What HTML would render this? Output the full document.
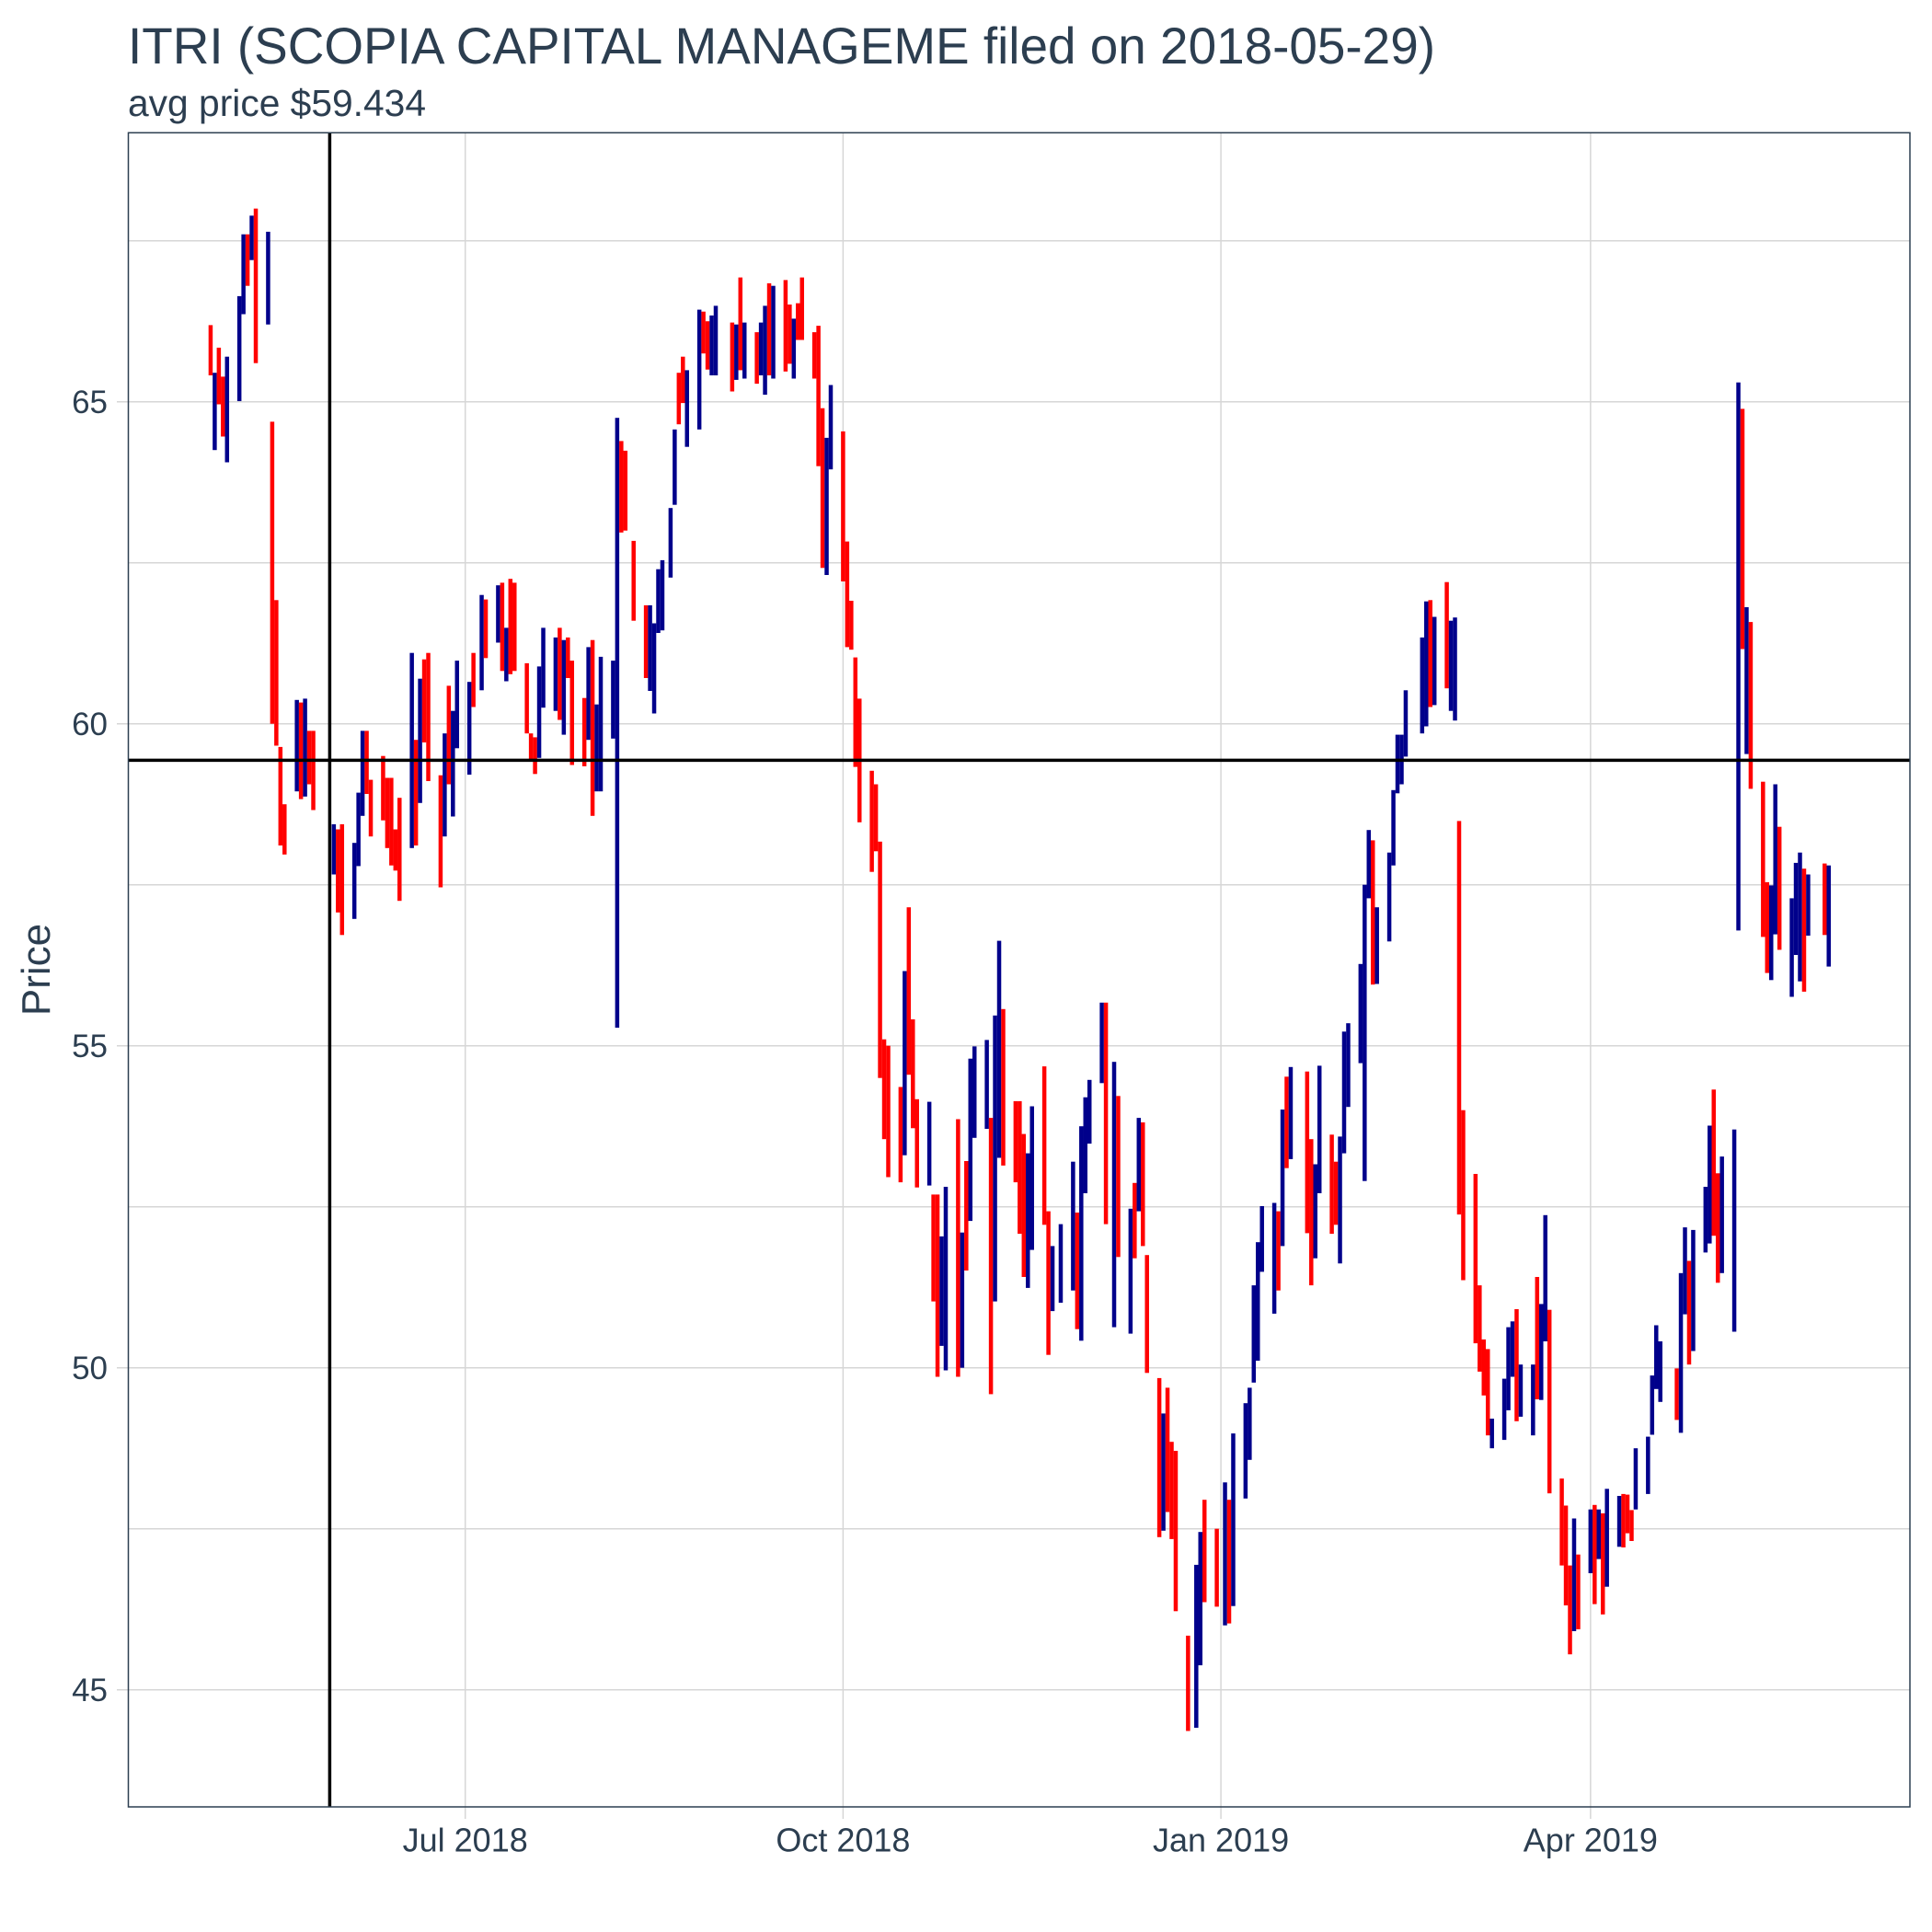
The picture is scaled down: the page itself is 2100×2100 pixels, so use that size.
<!DOCTYPE html>
<html>
<head>
<meta charset="utf-8">
<style>
html,body{margin:0;padding:0;background:#fff;}
svg{display:block;font-family:"Liberation Sans",Arial,sans-serif;}
</style>
</head>
<body>
<svg id="chart" width="2100" height="2100" viewBox="0 0 2100 2100" xmlns="http://www.w3.org/2000/svg">
  <rect x="0" y="0" width="2100" height="2100" fill="#fff"/>
  <text x="139" y="69" font-size="56" fill="#2c3e50" textLength="1421" lengthAdjust="spacingAndGlyphs">ITRI (SCOPIA CAPITAL MANAGEME filed on 2018-05-29)</text>
  <text x="139" y="126" font-size="41" fill="#2c3e50" textLength="324" lengthAdjust="spacingAndGlyphs">avg price $59.434</text>
  <text x="0" y="0" font-size="44" fill="#2c3e50" text-anchor="middle" transform="translate(54,1054) rotate(-90)">Price</text>
  <g id="grid"></g>
  <g id="bars"></g>
  <g id="refs"></g>
  <rect x="139.5" y="144.3" width="1936.5" height="1819.7" fill="none" stroke="#2c3e50" stroke-width="1.5"/>
  <g id="axes"></g>
</svg>
<script>
const days = [-62,-61,-60,-59,-58,-55,-54,-53,-52,-51,-48,-47,-46,-45,-44,-41,-40,-39,-38,-37,-32,-31,-30,-27,-26,-25,-24,-23,-20,-19,-18,-17,-16,-13,-12,-11,-10,-9,-6,-5,-4,-3,-2,1,2,4,5,8,9,10,11,12,15,16,17,18,19,22,23,24,25,26,29,30,31,32,33,36,37,38,39,41,44,45,46,47,48,50,51,52,53,54,57,58,59,60,61,65,66,67,68,71,72,73,74,75,78,79,80,81,82,85,86,87,88,89,92,93,94,95,96,99,100,101,102,103,106,107,108,109,110,113,114,115,116,117,120,121,122,123,124,127,128,129,130,131,134,135,136,137,138,141,142,143,145,148,149,150,151,152,155,156,158,159,162,163,164,165,166,169,170,171,172,173,176,178,179,180,183,185,186,187,190,191,192,193,194,197,198,199,200,201,205,206,207,208,211,212,213,214,215,218,219,220,221,222,225,226,227,228,229,233,234,235,236,239,240,241,242,243,246,247,248,249,250,253,254,255,256,257,260,261,262,263,264,267,268,269,270,271,274,275,276,277,278,281,282,283,284,285,288,289,290,291,295,296,297,298,299,302,303,304,305,306,309,310,311,312,313,316,317,318,319,320,323,324,325,326,327,331,332];
const lows = [65.41,64.25,64.96,64.46,64.06,65.01,66.36,66.80,67.20,65.60,66.20,60.00,59.66,58.11,57.97,58.95,58.83,58.87,59.06,58.66,57.66,57.07,56.72,56.97,57.79,58.57,58.91,58.25,58.50,58.07,57.80,57.72,57.25,58.07,58.11,58.77,59.71,59.11,57.46,58.25,59.06,58.56,59.62,59.21,60.26,60.52,61.02,61.26,60.82,60.66,60.77,60.82,59.85,59.44,59.22,59.47,60.25,60.20,60.06,59.83,60.71,59.36,59.34,59.75,58.57,58.95,58.95,59.77,55.28,62.97,63.00,61.60,60.71,60.51,60.16,61.41,61.45,62.27,63.40,64.65,64.98,64.30,64.57,65.75,65.50,65.41,65.41,65.16,65.34,65.49,65.36,65.28,65.41,65.11,65.41,65.36,65.47,65.59,65.36,65.96,65.96,65.36,64.00,62.42,62.31,63.95,62.21,61.19,61.15,59.33,58.47,57.70,58.02,54.50,53.55,52.96,52.88,53.30,54.55,53.72,52.80,52.83,51.03,49.86,50.34,49.96,49.86,50.00,51.51,52.28,53.57,53.71,49.59,51.03,53.26,53.14,52.88,52.08,51.41,51.24,51.83,52.22,50.20,50.88,51.01,51.20,50.60,50.42,52.71,53.48,54.42,52.23,50.63,51.72,50.53,51.70,52.43,51.89,49.92,47.37,47.47,47.76,47.34,46.22,44.36,44.41,45.38,46.36,46.29,46.00,46.03,46.30,47.97,48.57,49.77,50.11,51.49,50.84,51.20,51.89,53.10,53.24,52.09,51.28,51.70,52.71,52.08,52.22,51.62,53.33,54.05,54.73,52.90,57.29,55.95,55.96,56.62,57.80,58.92,59.06,59.49,59.85,59.96,60.26,60.29,60.55,60.20,60.05,52.38,51.36,50.38,49.94,49.57,48.95,48.75,48.88,49.34,49.86,49.17,49.24,48.95,49.51,49.50,50.41,48.05,46.93,46.31,45.55,45.91,45.94,46.81,46.33,47.03,46.17,46.60,47.22,47.21,47.43,47.31,47.80,48.04,48.96,49.67,49.47,49.19,48.99,50.83,50.05,50.26,51.79,51.93,52.05,51.32,51.47,50.56,56.79,61.16,59.53,58.99,56.69,56.13,56.02,56.73,56.49,55.76,56.41,56.00,55.84,56.71,56.72,56.23];
const highs = [66.19,65.45,65.84,65.39,65.70,66.64,67.60,67.60,67.89,68.00,67.64,64.69,61.92,59.64,58.75,60.37,60.33,60.39,59.89,59.89,58.44,58.36,58.44,58.15,58.93,59.89,59.89,59.13,59.50,59.16,59.16,58.36,58.85,61.10,59.75,60.70,61.00,61.10,59.20,59.85,60.59,60.20,60.98,60.65,61.10,62.00,61.93,62.15,62.19,61.49,62.25,62.19,60.94,59.85,59.79,60.89,61.49,61.34,61.49,61.30,61.34,60.98,60.40,61.19,61.30,60.30,61.04,60.98,64.75,64.39,64.24,62.84,61.84,61.84,61.56,62.40,62.54,63.35,64.57,65.45,65.70,65.49,66.43,66.40,66.25,66.34,66.49,66.23,66.20,66.93,66.23,66.08,66.23,66.49,66.84,66.80,66.89,66.51,66.29,66.53,66.93,66.08,66.18,64.90,64.44,65.26,64.54,62.83,61.91,61.03,60.39,59.27,59.06,58.17,55.10,55.00,54.36,56.16,57.15,55.41,54.17,54.13,52.69,52.69,52.04,52.81,53.86,52.10,53.21,54.80,54.99,55.09,53.88,55.47,56.63,55.57,54.14,54.14,53.63,53.33,54.06,54.68,52.43,51.89,52.23,53.20,52.41,53.75,54.20,54.47,55.67,55.67,54.75,54.22,52.47,52.87,53.88,53.81,51.75,49.84,49.29,49.69,48.85,48.71,45.84,46.94,47.45,47.95,47.50,48.22,47.95,48.98,49.45,49.69,51.28,51.95,52.51,52.56,52.43,54.01,54.52,54.67,54.60,53.55,53.16,54.69,53.62,53.20,53.59,55.22,55.35,56.27,57.50,58.35,58.19,57.15,58.00,58.97,59.83,59.83,60.52,61.34,61.90,61.92,61.66,62.20,61.60,61.65,58.49,54.00,53.01,51.28,50.44,50.29,49.21,49.83,50.63,50.72,50.91,50.05,50.05,51.41,50.99,52.37,50.90,48.28,47.86,46.93,47.66,47.10,47.80,47.87,47.80,47.74,48.12,48.01,48.04,48.03,47.79,48.75,48.93,49.88,50.66,50.41,49.99,51.47,52.18,51.66,52.14,52.81,53.76,54.32,53.02,53.28,53.70,65.30,64.89,61.81,61.58,59.10,57.54,57.49,59.06,58.40,57.29,57.84,58.00,57.75,57.66,57.83,57.80];
const ups = [
0,1,0,0,1,1,1,0,1,0,
1,0,0,0,0,1,0,1,0,0,
1,0,0,1,1,1,0,0,0,0,
0,0,0,1,0,1,0,0,0,1,
0,1,1,1,0,1,0,1,0,1,
0,0,0,0,0,1,1,1,0,1,
0,0,0,1,0,1,1,1,1,0,
0,0,0,1,1,1,1,1,1,0,
0,1,1,0,0,1,1,0,1,0,
1,0,1,1,0,1,0,0,1,0,
0,0,0,0,1,1,0,0,0,0,
0,0,0,0,0,0,0,1,0,0,
0,1,0,0,1,1,0,1,0,1,
1,1,0,1,1,0,0,0,0,1,
1,0,0,1,1,1,0,1,1,1,
1,0,1,0,1,0,1,0,0,0,
1,0,0,0,0,1,1,0,0,1,
0,1,1,1,1,1,1,1,0,1,
0,1,0,0,1,1,0,0,1,1,
1,1,1,1,0,1,1,1,1,1,
1,1,1,0,1,0,1,1,0,0,
0,0,0,0,1,1,1,1,0,1,
1,0,1,1,0,0,0,0,1,0,
1,0,1,0,1,1,0,0,0,1,
1,1,1,1,0,1,1,0,1,1,
1,0,0,1,1,1,0,1,0,0,
0,1,1,0,1,1,1,0,1,0,
1];
const yTicks = [45,50,55,60,65];
const yMinor = [47.5,52.5,57.5,62.5,67.5];
const xTickDays = [0,92,184,274];
const xTickLabels = ["Jul 2018","Oct 2018","Jan 2019","Apr 2019"];
const filedDay = -33;
const avgPrice = 59.434;

const NS = "http://www.w3.org/2000/svg";
const PL = 139.5, PR = 2076, PT = 144.3, PB = 1964;
function xs(d){ return 505.7 + d*4.464; }
function ys(p){ return 786.7 + (60-p)*70; }
function mk(tag, attrs, parent){
  const e = document.createElementNS(NS, tag);
  for (const k in attrs) e.setAttribute(k, attrs[k]);
  parent.appendChild(e);
  return e;
}
const grid = document.getElementById('grid');
const axes = document.getElementById('axes');
yMinor.forEach(v => {
  const l = mk('line', {x1:PL, x2:PR, y1:ys(v), y2:ys(v), stroke:'#d6d6d6', 'stroke-width':1.5}, grid);
  
  
});
yTicks.forEach(v => {
  const l = mk('line', {x1:127, x2:PR, y1:ys(v), y2:ys(v), stroke:'#d6d6d6', 'stroke-width':1.5}, grid);
  
  
  const t = mk('text', {x:117, y:ys(v)+12.5, 'font-size':35, fill:'#2c3e50', 'text-anchor':'end'}, axes);
  t.textContent = String(v);
  
  
});
xTickDays.forEach((d, i) => {
  const l = mk('line', {x1:xs(d), x2:xs(d), y1:PT, y2:PB+13, stroke:'#d6d6d6', 'stroke-width':1.5}, grid);
  
  
  const t = mk('text', {x:xs(d), y:2012.7, 'font-size':36, fill:'#2c3e50', 'text-anchor':'middle'}, axes);
  t.textContent = xTickLabels[i];
  
  
});
const bars = document.getElementById('bars');
days.forEach((d, i) => {
  const y1 = ys(highs[i]), y2 = ys(lows[i]);
  const r = mk('rect', {x:xs(d)-2.25, y:y1, width:4.5, height:Math.max(1, y2-y1), fill: ups[i] ? '#00008b' : '#ff0000'}, bars);
  
  
});
const refs = document.getElementById('refs');
const vl = mk('line', {x1:xs(filedDay), x2:xs(filedDay), y1:PT, y2:PB, stroke:'#000', 'stroke-width':3.5}, refs);


const hl = mk('line', {x1:PL, x2:PR, y1:ys(avgPrice), y2:ys(avgPrice), stroke:'#000', 'stroke-width':3.5}, refs);


</script>
</body>
</html>
